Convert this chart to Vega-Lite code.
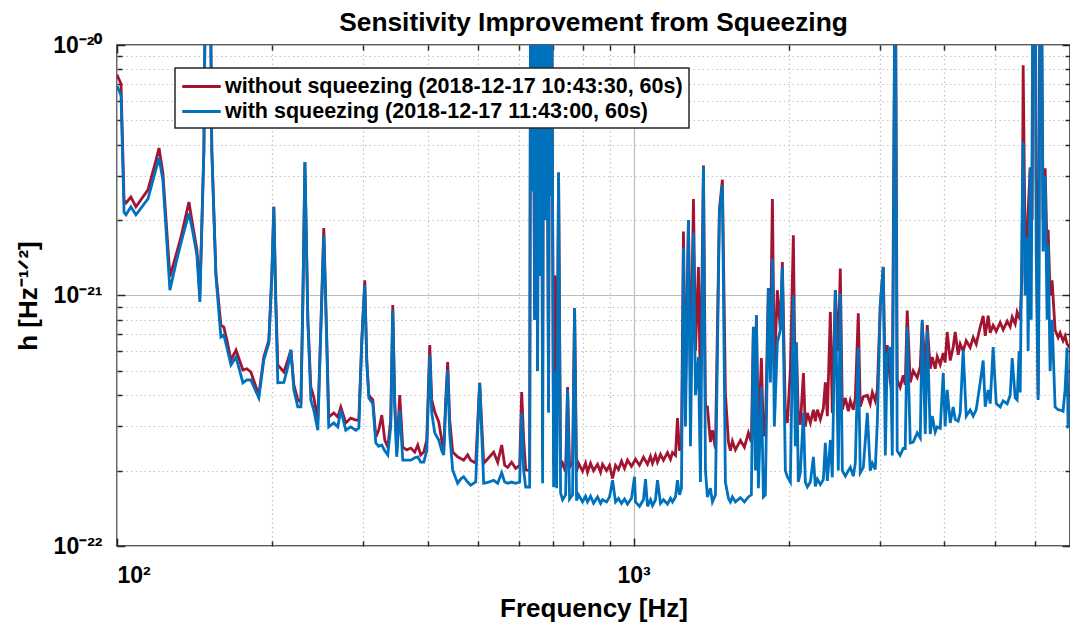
{
  "$schema": "https://vega.github.io/schema/vega-lite/v6.json",
  "width": 953,
  "height": 501,
  "autosize": {"type": "none"},
  "padding": {"left": 117, "top": 45, "right": 0, "bottom": 78},
  "background": "white",
  "title": {"text": "Sensitivity Improvement from Squeezing", "font": "Liberation Sans", "fontSize": 26.3, "fontWeight": "bold", "color": "#000000", "offset": -2, "anchor": "middle"},
  "config": {
    "font": "Liberation Sans",
    "view": {"stroke": "#262626", "strokeWidth": 1.5},
    "legend": {"strokeWidth": 1.5}
  },
  "datasets": {
    "without": [
      {"f":100,"h":7.6e-21},{"f":101.8,"h":7.0e-21},{"f":103.2,"h":2.4e-21},{"f":104.1,"h":2.34e-21},{"f":106.4,"h":2.47e-21},{"f":108.8,"h":2.26e-21},{"f":114.8,"h":2.64e-21},{"f":119,"h":3.47e-21},{"f":120.6,"h":3.88e-21},{"f":122.7,"h":3.08e-21},{"f":126.6,"h":1.19e-21},{"f":130.1,"h":1.45e-21},{"f":133,"h":1.71e-21},{"f":137.8,"h":2.36e-21},{"f":140.3,"h":1.88e-21},{"f":142.8,"h":1.52e-21},{"f":144.7,"h":1.02e-21},{"f":147.3,"h":3.8e-21},{"f":148.6,"h":3e-20},{"f":151.3,"h":3e-20},{"f":152.6,"h":3.8e-21},{"f":155.4,"h":1.23e-21},{"f":158.9,"h":7.62e-22},{"f":161,"h":7.48e-22},{"f":163.2,"h":6.64e-22},{"f":166.2,"h":5.53e-22},{"f":170,"h":6.06e-22},{"f":175.3,"h":5.04e-22},{"f":178.4,"h":5.1e-22},{"f":181.6,"h":4.95e-22},{"f":188.2,"h":4.0e-22},{"f":192.4,"h":5.68e-22},{"f":196.8,"h":6.64e-22},{"f":199.5,"h":1.26e-21},{"f":201.2,"h":2.26e-21},{"f":203,"h":9.6e-22},{"f":204.8,"h":5.28e-22},{"f":210.4,"h":4.95e-22},{"f":214.2,"h":5.53e-22},{"f":217.1,"h":6.06e-22},{"f":220,"h":4.4e-22},{"f":223.9,"h":3.83e-22},{"f":227,"h":3.76e-22},{"f":229,"h":9.6e-22},{"f":231.1,"h":3.41e-21},{"f":234.2,"h":7.98e-22},{"f":237.3,"h":4.31e-22},{"f":240.4,"h":3.93e-22},{"f":244.8,"h":3.18e-22},{"f":248,"h":7.28e-22},{"f":251.4,"h":1.86e-21},{"f":254.8,"h":6.64e-22},{"f":257,"h":3.27e-22},{"f":262.9,"h":3.4e-22},{"f":267.6,"h":3.27e-22},{"f":271.2,"h":3.59e-22},{"f":277.3,"h":3.1e-22},{"f":283.5,"h":3.24e-22},{"f":290,"h":3.18e-22},{"f":293.9,"h":3.18e-22},{"f":297.8,"h":6.64e-22},{"f":301.8,"h":1.15e-21},{"f":304.5,"h":5.53e-22},{"f":307.3,"h":4.0e-22},{"f":312.8,"h":3.83e-22},{"f":317,"h":2.72e-22},{"f":321.2,"h":2.9e-22},{"f":325.6,"h":3.33e-22},{"f":329.9,"h":2.65e-22},{"f":334.4,"h":2.48e-22},{"f":338.8,"h":3.18e-22},{"f":341.9,"h":9.17e-22},{"f":344.9,"h":3.83e-22},{"f":348,"h":2.35e-22},{"f":352.7,"h":4.0e-22},{"f":357.5,"h":2.48e-22},{"f":363.9,"h":2.42e-22},{"f":370.5,"h":2.46e-22},{"f":377.1,"h":2.37e-22},{"f":382.2,"h":2.53e-22},{"f":387.3,"h":2.31e-22},{"f":392.6,"h":2.37e-22},{"f":397.8,"h":2.65e-22},{"f":403.2,"h":6.34e-22},{"f":406.8,"h":3.83e-22},{"f":412.3,"h":3.43e-22},{"f":419.7,"h":3.13e-22},{"f":425.3,"h":2.65e-22},{"f":429.1,"h":2.42e-22},{"f":432.9,"h":3.83e-22},{"f":436.8,"h":5.43e-22},{"f":440.7,"h":3.18e-22},{"f":446.6,"h":2.37e-22},{"f":456.6,"h":2.27e-22},{"f":469,"h":2.2e-22},{"f":477.4,"h":2.31e-22},{"f":483.8,"h":2.2e-22},{"f":494.9,"h":2.14e-22},{"f":503.7,"h":4.48e-22},{"f":512.8,"h":2.14e-22},{"f":524.4,"h":2.25e-22},{"f":536.2,"h":2.37e-22},{"f":545.9,"h":2.16e-22},{"f":555.7,"h":2.53e-22},{"f":563.1,"h":2.1e-22},{"f":570.7,"h":2.06e-22},{"f":580.8,"h":2.16e-22},{"f":591.4,"h":2.04e-22},{"f":602,"h":2.1e-22},{"f":607.4,"h":4.12e-22},{"f":612.9,"h":2.65e-22},{"f":618.4,"h":2.01e-22},{"f":626.7,"h":2.01e-22},
      {"f":629.4,"h":2.01e-22},{"f":632.3,"h":3e-20},{"f":635,"h":3e-20},{"f":637.8,"h":3e-20},{"f":643.5,"h":8e-22},{"f":646.3,"h":3e-20},{"f":652.1,"h":5e-22},{"f":655,"h":3e-20},{"f":660.9,"h":1.2e-21},{"f":663.7,"h":3e-20},{"f":666.8,"h":2.2e-22},{"f":669.7,"h":3e-20},{"f":675.8,"h":2e-21},{"f":678.8,"h":3e-20},{"f":684.8,"h":3.5e-22},{"f":687.9,"h":3e-20},{"f":691,"h":2.5e-21},{"f":694,"h":3e-20},{"f":700.3,"h":2.1e-22},{"f":703.4,"h":1.2e-21},{"f":706.5,"h":1.15e-21},{"f":709.8,"h":2.2e-22},{"f":716,"h":3.1e-21},{"f":722.4,"h":2.06e-22},{"f":729,"h":2.14e-22},{"f":738.8,"h":1.98e-22},{"f":745.3,"h":4.31e-22},{"f":752,"h":2.06e-22},{"f":762.1,"h":2.16e-22},{"f":769,"h":8.9e-22},{"f":775.8,"h":1.98e-22},{"f":782.7,"h":2.14e-22},{"f":796.8,"h":1.99e-22},{"f":807.5,"h":2.14e-22},{"f":814.7,"h":1.97e-22},{"f":825.7,"h":2.14e-22},{"f":836.8,"h":2.0e-22},{"f":852,"h":2.12e-22},{"f":863.4,"h":1.97e-22},{"f":871,"h":2.12e-22},{"f":886.8,"h":2.0e-22},{"f":898.7,"h":2.1e-22},{"f":910.9,"h":1.86e-22},{"f":923,"h":2.1e-22},{"f":935.4,"h":2.02e-22},{"f":947.9,"h":2.18e-22},{"f":960.7,"h":2.04e-22},{"f":973.6,"h":2.2e-22},{"f":991.1,"h":2.08e-22},{"f":1009,"h":2.22e-22},{"f":1027.1,"h":2.1e-22},{"f":1045.5,"h":2.26e-22},{"f":1064.4,"h":2.12e-22},{"f":1078.7,"h":2.28e-22},{"f":1088.4,"h":2.14e-22},{"f":1103,"h":2.3e-22},{"f":1112.8,"h":2.16e-22},{"f":1127.8,"h":2.32e-22},{"f":1142.9,"h":2.2e-22},{"f":1163.6,"h":2.36e-22},{"f":1179.3,"h":2.22e-22},{"f":1189.7,"h":2.36e-22},{"f":1205.7,"h":2.3e-22},{"f":1216.6,"h":3.24e-22},{"f":1227.5,"h":2.4e-22},{"f":1238.3,"h":2.5e-22},{"f":1249.4,"h":1.8e-21},{"f":1260.7,"h":4e-22},{"f":1277.6,"h":2.0e-21},{"f":1289.2,"h":4.5e-22},{"f":1306.5,"h":2.43e-21},{"f":1318.3,"h":6e-22},{"f":1335.7,"h":1.3e-21},{"f":1347.8,"h":4e-22},{"f":1365.9,"h":3.3e-21},{"f":1378.2,"h":3.6e-22},{"f":1390.3,"h":3.59e-22},{"f":1409,"h":2.6e-22},{"f":1421.7,"h":2.9e-22},{"f":1440.8,"h":2.45e-22},{"f":1466.6,"h":2.2e-21},{"f":1486.3,"h":2.9e-21},{"f":1506.3,"h":4.08e-22},{"f":1526.9,"h":2.6e-22},{"f":1540.3,"h":2.4e-22},{"f":1554.2,"h":2.62e-22},{"f":1575.1,"h":2.42e-22},{"f":1610.6,"h":2.64e-22},{"f":1639.4,"h":2.48e-22},{"f":1668.8,"h":2.83e-22},{"f":1691.2,"h":2.6e-22},{"f":1706.5,"h":7.5e-22},{"f":1721.9,"h":2.7e-22},{"f":1729.4,"h":8.3e-22},{"f":1745,"h":2.65e-22},{"f":1768.5,"h":5.63e-22},{"f":1784.4,"h":2.75e-22},{"f":1800.1,"h":2.9e-22},{"f":1824.3,"h":1.07e-21},{"f":1840.8,"h":6.34e-22},{"f":1857.4,"h":2.43e-21},{"f":1873.7,"h":5e-22},{"f":1898.9,"h":1.05e-21},{"f":1924.4,"h":7.3e-22},{"f":1941.8,"h":1.36e-21},{"f":1967.9,"h":3.3e-22},{"f":1985.6,"h":3.1e-22},{"f":2012.3,"h":5.04e-22},{"f":2039.3,"h":1.74e-21},{"f":2057.2,"h":4e-22},{"f":2066.7,"h":6.5e-22},{"f":2084.9,"h":3.3e-22},{"f":2103.7,"h":3.05e-22},
      {"f":2133,"h":4.9e-22},{"f":2151,"h":3.0e-22},{"f":2171,"h":3.4e-22},{"f":2200,"h":3.1e-22},{"f":2230,"h":3.5e-22},{"f":2249,"h":3.15e-22},{"f":2270,"h":3.5e-22},{"f":2300,"h":3.2e-22},{"f":2331,"h":3.55e-22},{"f":2352,"h":4.5e-22},{"f":2373,"h":3.3e-22},{"f":2405,"h":8.6e-22},{"f":2426,"h":3.4e-22},{"f":2459,"h":1.05e-21},{"f":2492,"h":6e-22},{"f":2514,"h":1.28e-21},{"f":2537,"h":3.5e-22},{"f":2571,"h":3.9e-22},{"f":2606,"h":3.45e-22},{"f":2629,"h":3.8e-22},{"f":2664,"h":3.5e-22},{"f":2688,"h":3.9e-22},{"f":2724,"h":8.5e-22},{"f":2748,"h":3.6e-22},{"f":2786,"h":3.95e-22},{"f":2836,"h":4.0e-22},{"f":2873,"h":3.7e-22},{"f":2900,"h":4.1e-22},{"f":2938,"h":3.8e-22},{"f":2965,"h":4.2e-22},{"f":3005,"h":9.2e-22},{"f":3045,"h":1.3e-21},{"f":3073,"h":4.1e-22},{"f":3099,"h":6.34e-22},{"f":3141,"h":4.5e-22},{"f":3170,"h":4.1e-22},{"f":3212,"h":3e-20},{"f":3240,"h":4.6e-22},{"f":3283,"h":4.3e-22},{"f":3328,"h":4.8e-22},{"f":3358,"h":4.4e-22},{"f":3388,"h":8.7e-22},{"f":3434,"h":4.5e-22},{"f":3480,"h":5.0e-22},{"f":3543,"h":4.7e-22},{"f":3591,"h":5.2e-22},{"f":3622,"h":7.84e-22},{"f":3672,"h":4.9e-22},{"f":3705,"h":7.62e-22},{"f":3754,"h":5.1e-22},{"f":3788,"h":5.68e-22},{"f":3838,"h":5.1e-22},{"f":3873,"h":5.7e-22},{"f":3925,"h":5.3e-22},{"f":3978,"h":5.89e-22},{"f":4012,"h":5.4e-22},{"f":4049,"h":7.15e-22},{"f":4104,"h":5.5e-22},{"f":4159,"h":6.23e-22},{"f":4196,"h":7.15e-22},{"f":4252,"h":5.8e-22},{"f":4291,"h":6.4e-22},{"f":4348,"h":6.0e-22},{"f":4407,"h":6.6e-22},{"f":4486,"h":6.2e-22},{"f":4547,"h":6.8e-22},{"f":4608,"h":6.4e-22},{"f":4690,"h":7.48e-22},{"f":4753,"h":8.3e-22},{"f":4797,"h":6.9e-22},{"f":4860,"h":8.3e-22},{"f":4905,"h":7.1e-22},{"f":4969,"h":7.6e-22},{"f":5038,"h":7.2e-22},{"f":5128,"h":7.8e-22},{"f":5196,"h":7.3e-22},{"f":5290,"h":7.9e-22},{"f":5362,"h":7.5e-22},{"f":5410,"h":8.2e-22},{"f":5483,"h":7.7e-22},{"f":5530,"h":8.59e-22},{"f":5606,"h":8.0e-22},{"f":5655,"h":1.23e-21},{"f":5681,"h":8.3e-21},{"f":5732,"h":1.5e-21},{"f":5783,"h":1.8e-21},{"f":5861,"h":3.22e-21},{"f":5913,"h":2e-21},{"f":5940,"h":3e-20},{"f":5993,"h":3e-20},{"f":6020,"h":3e-21},{"f":6073,"h":4e-22},{"f":6127,"h":3e-20},{"f":6154,"h":3e-20},{"f":6209,"h":2e-21},{"f":6266,"h":3.22e-21},{"f":6321,"h":1.5e-21},{"f":6350,"h":1.83e-21},{"f":6406,"h":1e-21},{"f":6463,"h":1.15e-21},{"f":6550,"h":7.28e-22},{"f":6639,"h":6.8e-22},{"f":6697,"h":7.1e-22},{"f":6787,"h":6.6e-22},{"f":6848,"h":6.9e-22},{"f":6910,"h":6.4e-22},{"f":7000,"h":6.2e-22}
    ],
    "with": [
      {"f":100,"h":6.86e-21},{"f":101.8,"h":6.3e-21},{"f":103.2,"h":2.15e-21},{"f":104.1,"h":2.1e-21},{"f":106.4,"h":2.26e-21},{"f":108.8,"h":2.1e-21},{"f":114.8,"h":2.43e-21},{"f":119,"h":3.2e-21},{"f":120.6,"h":3.54e-21},{"f":122.7,"h":2.89e-21},{"f":126.6,"h":1.05e-21},{"f":130.1,"h":1.35e-21},{"f":133,"h":1.62e-21},{"f":137.8,"h":2.13e-21},{"f":140.3,"h":1.78e-21},{"f":142.8,"h":1.45e-21},{"f":144.7,"h":9.42e-22},{"f":147.3,"h":3.8e-21},{"f":148.6,"h":3e-20},{"f":151.3,"h":3e-20},{"f":152.6,"h":3.8e-21},{"f":155.4,"h":1.2e-21},{"f":158.9,"h":6.83e-22},{"f":161,"h":6.96e-22},{"f":163.2,"h":6.2e-22},{"f":166.2,"h":5.28e-22},{"f":170,"h":5.68e-22},{"f":175.3,"h":4.48e-22},{"f":178.4,"h":4.6e-22},{"f":181.6,"h":4.6e-22},{"f":188.2,"h":3.9e-22},{"f":192.4,"h":5.53e-22},{"f":196.8,"h":6.46e-22},{"f":199.5,"h":1.2e-21},{"f":201.2,"h":2.26e-21},{"f":203,"h":9e-22},{"f":204.8,"h":4.48e-22},{"f":210.4,"h":4.5e-22},{"f":214.2,"h":5.2e-22},{"f":217.1,"h":6.06e-22},{"f":220,"h":4.2e-22},{"f":223.9,"h":3.59e-22},{"f":227,"h":3.59e-22},{"f":229,"h":9.4e-22},{"f":231.1,"h":3.41e-21},{"f":234.2,"h":7.8e-22},{"f":237.3,"h":3.83e-22},{"f":240.4,"h":3.49e-22},{"f":244.8,"h":2.9e-22},{"f":248,"h":7.0e-22},{"f":251.4,"h":1.74e-21},{"f":254.8,"h":6.3e-22},{"f":257,"h":2.99e-22},{"f":262.9,"h":3.1e-22},{"f":267.6,"h":2.99e-22},{"f":271.2,"h":3.49e-22},{"f":277.3,"h":2.9e-22},{"f":283.5,"h":2.99e-22},{"f":290,"h":2.9e-22},{"f":293.9,"h":2.96e-22},{"f":297.8,"h":6.5e-22},{"f":301.8,"h":1.1e-21},{"f":304.5,"h":5.4e-22},{"f":307.3,"h":3.9e-22},{"f":312.8,"h":3.7e-22},{"f":317,"h":2.58e-22},{"f":321.2,"h":2.5e-22},{"f":325.6,"h":2.53e-22},{"f":329.9,"h":2.4e-22},{"f":334.4,"h":2.31e-22},{"f":338.8,"h":3.0e-22},{"f":341.9,"h":8.73e-22},{"f":344.9,"h":3.6e-22},{"f":348,"h":2.27e-22},{"f":352.7,"h":3.49e-22},{"f":357.5,"h":2.2e-22},{"f":363.9,"h":2.2e-22},{"f":370.5,"h":2.2e-22},{"f":377.1,"h":2.25e-22},{"f":382.2,"h":2.27e-22},{"f":387.3,"h":2.16e-22},{"f":392.6,"h":2.16e-22},{"f":397.8,"h":2.4e-22},{"f":403.2,"h":5.79e-22},{"f":406.8,"h":3.4e-22},{"f":412.3,"h":2.83e-22},{"f":419.7,"h":2.65e-22},{"f":425.3,"h":2.4e-22},{"f":429.1,"h":2.31e-22},{"f":432.9,"h":3.6e-22},{"f":436.8,"h":5.04e-22},{"f":440.7,"h":2.8e-22},{"f":446.6,"h":2.01e-22},{"f":456.6,"h":1.78e-22},{"f":462.8,"h":1.85e-22},{"f":469,"h":1.89e-22},{"f":477.4,"h":1.8e-22},{"f":483.8,"h":1.75e-22},{"f":494.9,"h":1.8e-22},{"f":503.7,"h":4.48e-22},{"f":512.8,"h":1.78e-22},{"f":524.4,"h":1.8e-22},{"f":536.2,"h":1.83e-22},{"f":545.9,"h":1.78e-22},{"f":555.7,"h":1.96e-22},{"f":563.1,"h":1.8e-22},{"f":570.7,"h":1.78e-22},{"f":580.8,"h":1.8e-22},{"f":591.4,"h":1.78e-22},{"f":602,"h":1.8e-22},{"f":607.4,"h":3.4e-22},{"f":612.9,"h":2.0e-22},{"f":618.4,"h":1.72e-22},{"f":626.7,"h":1.72e-22},
      {"f":629.4,"h":1.72e-22},{"f":632.3,"h":3e-20},{"f":635,"h":2.6e-21},{"f":637.8,"h":3e-20},{"f":640.7,"h":3e-20},{"f":643.5,"h":8e-22},{"f":646.3,"h":3e-20},{"f":652.1,"h":5e-22},{"f":655,"h":3e-20},{"f":660.9,"h":1.2e-21},{"f":663.7,"h":3e-20},{"f":666.8,"h":1.78e-22},{"f":669.7,"h":3e-20},{"f":675.8,"h":2e-21},{"f":678.8,"h":3e-20},{"f":684.8,"h":3.4e-22},{"f":687.9,"h":3e-20},{"f":691,"h":2.5e-21},{"f":694,"h":3e-20},{"f":700.3,"h":1.72e-22},{"f":703.4,"h":5e-22},{"f":706.5,"h":2.5e-22},{"f":709.8,"h":1.7e-22},{"f":716,"h":3.1e-21},{"f":722.4,"h":1.63e-22},{"f":729,"h":1.53e-22},{"f":738.8,"h":1.6e-22},{"f":745.3,"h":4.2e-22},{"f":752,"h":1.54e-22},{"f":762.1,"h":1.6e-22},{"f":769,"h":8.91e-22},{"f":775.8,"h":1.52e-22},{"f":782.7,"h":1.6e-22},{"f":796.8,"h":1.5e-22},{"f":807.5,"h":1.58e-22},{"f":814.7,"h":1.5e-22},{"f":825.7,"h":1.58e-22},{"f":836.8,"h":1.48e-22},{"f":852,"h":1.57e-22},{"f":863.4,"h":1.48e-22},{"f":871,"h":1.53e-22},{"f":886.8,"h":1.5e-22},{"f":898.7,"h":1.57e-22},{"f":910.9,"h":1.83e-22},{"f":923,"h":1.5e-22},{"f":935.4,"h":1.55e-22},{"f":947.9,"h":1.48e-22},{"f":960.7,"h":1.54e-22},{"f":973.6,"h":1.47e-22},{"f":991.1,"h":1.55e-22},{"f":1004.5,"h":1.89e-22},{"f":1009,"h":1.5e-22},{"f":1027.1,"h":1.44e-22},{"f":1045.5,"h":1.53e-22},{"f":1055,"h":1.85e-22},{"f":1064.4,"h":1.44e-22},{"f":1078.7,"h":1.53e-22},{"f":1088.4,"h":1.45e-22},{"f":1103,"h":1.53e-22},{"f":1112.8,"h":1.83e-22},{"f":1127.8,"h":1.48e-22},{"f":1142.9,"h":1.53e-22},{"f":1163.6,"h":1.47e-22},{"f":1179.3,"h":1.55e-22},{"f":1189.7,"h":1.5e-22},{"f":1205.7,"h":1.57e-22},{"f":1216.6,"h":1.83e-22},{"f":1227.5,"h":1.6e-22},{"f":1238.3,"h":1.7e-22},{"f":1249.4,"h":1.55e-21},{"f":1260.7,"h":3e-22},{"f":1277.6,"h":2.0e-21},{"f":1289.2,"h":2.5e-22},{"f":1306.5,"h":1.78e-21},{"f":1318.3,"h":4e-22},{"f":1335.7,"h":5.68e-22},{"f":1347.8,"h":1.8e-22},{"f":1365.9,"h":3.25e-21},{"f":1378.2,"h":2e-22},{"f":1390.3,"h":1.57e-22},{"f":1409,"h":1.7e-22},{"f":1421.7,"h":1.5e-22},{"f":1440.8,"h":1.6e-22},{"f":1466.6,"h":2.15e-21},{"f":1486.3,"h":2.76e-21},{"f":1506.3,"h":1.8e-22},{"f":1526.9,"h":1.55e-22},{"f":1540.3,"h":1.5e-22},{"f":1554.2,"h":1.57e-22},{"f":1575.1,"h":1.5e-22},{"f":1610.6,"h":1.56e-22},{"f":1639.4,"h":1.5e-22},{"f":1668.8,"h":1.57e-22},{"f":1691.2,"h":1.6e-22},{"f":1706.5,"h":7.48e-22},{"f":1721.9,"h":2.0e-22},{"f":1729.4,"h":8.36e-22},{"f":1745,"h":1.7e-22},{"f":1768.5,"h":4.31e-22},{"f":1784.4,"h":1.57e-22},{"f":1800.1,"h":1.6e-22},{"f":1824.3,"h":1.07e-21},{"f":1840.8,"h":4.5e-22},{"f":1857.4,"h":1.4e-21},{"f":1873.7,"h":3.0e-22},{"f":1898.9,"h":6.5e-22},{"f":1924.4,"h":7.28e-22},{"f":1941.8,"h":1.3e-21},{"f":1967.9,"h":2.0e-22},{"f":1985.6,"h":1.89e-22},{"f":2012.3,"h":1.8e-22},{"f":2039.3,"h":1.0e-21},{"f":2057.2,"h":2.5e-22},{"f":2066.7,"h":6.46e-22},{"f":2084.9,"h":1.8e-22},{"f":2103.7,"h":1.96e-22},
      {"f":2133,"h":3.4e-22},{"f":2151,"h":1.8e-22},{"f":2171,"h":1.72e-22},{"f":2200,"h":1.8e-22},{"f":2230,"h":2.27e-22},{"f":2249,"h":1.73e-22},{"f":2270,"h":1.85e-22},{"f":2300,"h":1.76e-22},{"f":2331,"h":1.84e-22},{"f":2352,"h":2.58e-22},{"f":2373,"h":1.82e-22},{"f":2405,"h":2.65e-22},{"f":2426,"h":1.88e-22},{"f":2459,"h":1.05e-21},{"f":2492,"h":2.0e-22},{"f":2514,"h":1.02e-21},{"f":2537,"h":2.0e-22},{"f":2571,"h":1.9e-22},{"f":2606,"h":2.0e-22},{"f":2629,"h":2.06e-22},{"f":2664,"h":1.9e-22},{"f":2688,"h":2.14e-22},{"f":2724,"h":6.17e-22},{"f":2748,"h":1.96e-22},{"f":2786,"h":2.06e-22},{"f":2836,"h":3.4e-22},{"f":2873,"h":2.0e-22},{"f":2900,"h":2.14e-22},{"f":2938,"h":2.02e-22},{"f":2965,"h":3.1e-22},{"f":3005,"h":9.17e-22},{"f":3045,"h":1.3e-21},{"f":3073,"h":2.3e-22},{"f":3099,"h":5.8e-22},{"f":3141,"h":6.23e-22},{"f":3170,"h":2.3e-22},{"f":3212,"h":3e-20},{"f":3240,"h":2.4e-22},{"f":3283,"h":2.3e-22},{"f":3328,"h":2.45e-22},{"f":3358,"h":2.45e-22},{"f":3388,"h":7.48e-22},{"f":3434,"h":2.58e-22},{"f":3480,"h":2.6e-22},{"f":3543,"h":2.83e-22},{"f":3591,"h":2.7e-22},{"f":3622,"h":8.0e-22},{"f":3672,"h":2.8e-22},{"f":3705,"h":7.28e-22},{"f":3754,"h":2.8e-22},{"f":3788,"h":3.3e-22},{"f":3838,"h":2.85e-22},{"f":3873,"h":2.99e-22},{"f":3925,"h":2.95e-22},{"f":3978,"h":4.91e-22},{"f":4012,"h":3.0e-22},{"f":4049,"h":4.2e-22},{"f":4104,"h":3.1e-22},{"f":4159,"h":3.59e-22},{"f":4196,"h":3.2e-22},{"f":4252,"h":3.15e-22},{"f":4291,"h":3.4e-22},{"f":4348,"h":6.06e-22},{"f":4407,"h":3.3e-22},{"f":4486,"h":3.49e-22},{"f":4547,"h":3.3e-22},{"f":4608,"h":3.5e-22},{"f":4690,"h":4.48e-22},{"f":4753,"h":5.5e-22},{"f":4797,"h":3.6e-22},{"f":4860,"h":4.2e-22},{"f":4905,"h":3.7e-22},{"f":4969,"h":6.23e-22},{"f":5038,"h":3.7e-22},{"f":5128,"h":3.59e-22},{"f":5196,"h":3.8e-22},{"f":5290,"h":3.7e-22},{"f":5362,"h":4.0e-22},{"f":5410,"h":5.63e-22},{"f":5483,"h":3.9e-22},{"f":5530,"h":3.83e-22},{"f":5580,"h":6.0e-22},{"f":5606,"h":4.1e-22},{"f":5655,"h":2.15e-21},{"f":5681,"h":4.1e-21},{"f":5732,"h":1.0e-21},{"f":5783,"h":1.71e-21},{"f":5808,"h":6e-22},{"f":5861,"h":3.25e-21},{"f":5888,"h":8e-22},{"f":5940,"h":3e-20},{"f":5993,"h":3e-20},{"f":6020,"h":1.5e-21},{"f":6073,"h":3.83e-22},{"f":6100,"h":1.2e-21},{"f":6127,"h":3e-20},{"f":6154,"h":3e-20},{"f":6209,"h":1.5e-21},{"f":6266,"h":3.0e-21},{"f":6321,"h":8e-22},{"f":6350,"h":1.6e-21},{"f":6406,"h":5e-22},{"f":6463,"h":8e-22},{"f":6550,"h":3.59e-22},{"f":6639,"h":3.5e-22},{"f":6697,"h":3.49e-22},{"f":6787,"h":3.45e-22},{"f":6848,"h":4.2e-22},{"f":6910,"h":6.2e-22},{"f":6940,"h":3.0e-22},{"f":7000,"h":3.04e-22}
    ]
  },
  "layer": [
    {
      "data": {"name": "without"},
      "mark": {"type": "line", "clip": true, "strokeWidth": 2.8},
      "encoding": {
        "x": {
          "field": "f", "type": "quantitative",
          "scale": {"type": "log", "domain": [100, 7000], "nice": false},
          "axis": {
            "orient": "bottom",
            "title": "Frequency [Hz]",
            "values": [100,200,300,400,500,600,700,800,900,1000,2000,3000,4000,5000,6000],
            "labelExpr": "datum.value == 100 ? '10²' : datum.value == 1000 ? '10³' : ''",
            "labelOverlap": false,
            "labelFont": "Liberation Sans", "labelFontSize": 23, "labelFontWeight": "bold", "labelColor": "#000000",
            "labelPadding": 26,
            "titleFont": "Liberation Sans", "titleFontSize": 26, "titleFontWeight": "bold", "titleColor": "#000000",
            "titlePadding": 5,
            "domain": false,
            "ticks": true,
            "tickColor": "#262626", "tickWidth": 1.5,
            "tickSize": {"condition": {"test": "datum.value == 100 || datum.value == 1000", "value": -8}, "value": -5},
            "grid": true,
            "gridColor": {"condition": {"test": "datum.value == 100 || datum.value == 1000", "value": "#bdbdbd"}, "value": "#c4c4c4"},
            "gridDash": {"condition": {"test": "datum.value == 100 || datum.value == 1000", "value": []}, "value": [1.5, 3]},
            "gridWidth": 1.2
          }
        },
        "y": {
          "field": "h", "type": "quantitative",
          "scale": {"type": "log", "domain": [1e-22, 1e-20], "nice": false},
          "axis": {
            "orient": "left",
            "title": "h  [Hz⁻¹ᐟ²]",
            "values": [1e-22,2e-22,3e-22,4e-22,5e-22,6e-22,7e-22,8e-22,9e-22,1e-21,2e-21,3e-21,4e-21,5e-21,6e-21,7e-21,8e-21,9e-21,1e-20],
            "labelExpr": "datum.value == 1e-22 ? '10⁻²²' : datum.value == 1e-21 ? '10⁻²¹' : datum.value == 1e-20 ? '10⁻²⁰' : ''",
            "labelOverlap": false,
            "labelFont": "Liberation Sans", "labelFontSize": 23, "labelFontWeight": "bold", "labelColor": "#000000",
            "labelPadding": 23,
            "titleFont": "Liberation Sans", "titleFontSize": 26, "titleFontWeight": "bold", "titleColor": "#000000",
            "titlePadding": 11,
            "domain": false,
            "ticks": true,
            "tickColor": "#262626", "tickWidth": 1.5,
            "tickSize": {"condition": {"test": "datum.value == 1e-22 || datum.value == 1e-21 || datum.value == 1e-20", "value": -8}, "value": -5},
            "grid": true,
            "gridColor": {"condition": {"test": "datum.value == 1e-22 || datum.value == 1e-21 || datum.value == 1e-20", "value": "#bdbdbd"}, "value": "#c4c4c4"},
            "gridDash": {"condition": {"test": "datum.value == 1e-22 || datum.value == 1e-21 || datum.value == 1e-20", "value": []}, "value": [1.5, 3]},
            "gridWidth": 1.2
          }
        },
        "color": {
          "datum": "without squeezing (2018-12-17 10:43:30, 60s)",
          "scale": {
            "domain": ["without squeezing (2018-12-17 10:43:30, 60s)", "with squeezing (2018-12-17 11:43:00, 60s)"],
            "range": ["#A2142F", "#0072BD"]
          },
          "legend": {
            "title": null,
            "orient": "none",
            "legendX": 58,
            "legendY": 23,
            "direction": "vertical",
            "symbolType": "M-1.75,0H1.75",
            "symbolSize": 484,
            "symbolStrokeWidth": 3,
            "symbolOffset": 8,
            "labelFont": "Liberation Sans",
            "labelFontSize": 21.5,
            "labelFontWeight": "bold",
            "labelColor": "#000000",
            "labelLimit": 0,
            "labelOffset": 11,
            "padding": 6,
            "rowPadding": 2,
            "strokeColor": "#262626",
            "fillColor": "white"
          }
        }
      }
    },
    {
      "data": {"name": "with"},
      "mark": {"type": "line", "clip": true, "strokeWidth": 2.8},
      "encoding": {
        "x": {
          "field": "f", "type": "quantitative",
          "axis": {
            "orient": "top", "title": null, "labels": false, "grid": false, "domain": false,
            "values": [100,200,300,400,500,600,700,800,900,1000,2000,3000,4000,5000,6000],
            "tickColor": "#262626", "tickWidth": 1.5,
            "tickSize": {"condition": {"test": "datum.value == 100 || datum.value == 1000", "value": -8}, "value": -5}
          }
        },
        "y": {
          "field": "h", "type": "quantitative",
          "axis": {
            "orient": "right", "title": null, "labels": false, "grid": false, "domain": false,
            "values": [1e-22,2e-22,3e-22,4e-22,5e-22,6e-22,7e-22,8e-22,9e-22,1e-21,2e-21,3e-21,4e-21,5e-21,6e-21,7e-21,8e-21,9e-21,1e-20],
            "tickColor": "#262626", "tickWidth": 1.5,
            "tickSize": {"condition": {"test": "datum.value == 1e-22 || datum.value == 1e-21 || datum.value == 1e-20", "value": -8}, "value": -5}
          }
        },
        "color": {"datum": "with squeezing (2018-12-17 11:43:00, 60s)"}
      }
    }
  ],
  "resolve": {"axis": {"x": "independent", "y": "independent"}}
}
